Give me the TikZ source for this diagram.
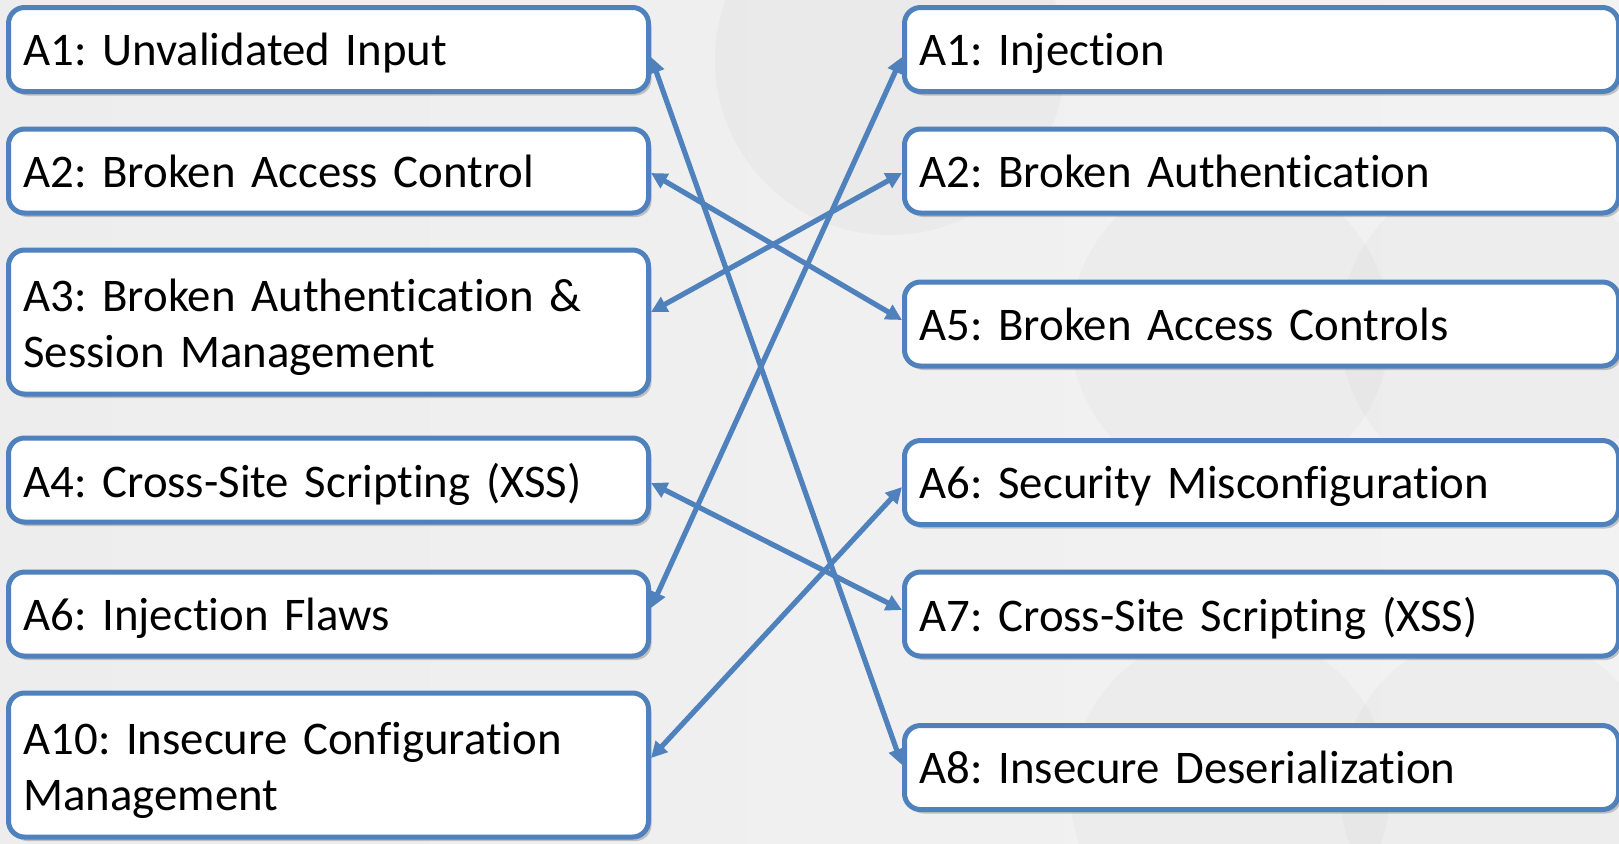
\documentclass[tikz,border=0pt]{standalone}
\usepackage{fontspec}
\setmainfont[Ligatures={NoCommon}]{Carlito}
\usetikzlibrary{arrows.meta,shadows,calc}
\definecolor{itemblue}{HTML}{4F81BD}
\begin{document}
\frenchspacing
\begin{tikzpicture}[x=0.5pt,y=-0.5pt,
  item/.style={draw=itemblue, line width=2.5pt, rounded corners=8pt, fill=white,
    inner xsep=7.5pt, inner ysep=0pt, anchor=west,
    execute at begin node={\raggedright},
    font=\fontsize{23.4}{28}\selectfont,
    drop shadow={shadow xshift=1.5pt, shadow yshift=-2pt, fill=black, opacity=0.2}},
  leftitem/.style={item, text width=305pt, minimum width=320pt},
  rightitem/.style={item, text width=342pt, minimum width=357pt},
  one/.style={minimum height=42pt, text depth=-2pt},
  two/.style={minimum height=72pt, text depth=27pt},
  link/.style={draw=itemblue, line width=2.6pt,
    {Triangle[length=8pt,width=8pt]}-{Triangle[length=8pt,width=8pt]}}
]
% backdrop
\useasboundingbox (0,0) rectangle (1619,843);
\shade[left color=gray!14, middle color=gray!4, right color=gray!10] (0,0) rectangle (1619,843);
\begin{scope}
  \clip (0,0) rectangle (1619,843);
  \fill[gray, opacity=0.05] (890,60) circle (175);
  \fill[gray, opacity=0.04] (1230,330) circle (160);
  \fill[gray, opacity=0.04] (1500,330) circle (160);
  \fill[gray, opacity=0.04] (1230,790) circle (160);
  \fill[gray, opacity=0.04] (1500,790) circle (160);
\end{scope}

% 2004 list
\node[leftitem, one] (L1) at (6,49.5)  {A1: Unvalidated Input};
\node[leftitem, one] (L2) at (6,171)   {A2: Broken Access Control};
\node[leftitem, two] (L3) at (6,322)   {A3: Broken Authentication \&\\Session Management};
\node[leftitem, one] (L4) at (6,480)   {A4: Cross-Site Scripting (XSS)};
\node[leftitem, one] (L5) at (6,614)   {A6: Injection Flaws};
\node[leftitem, two] (L6) at (6,765)   {A10: Insecure Configuration\\Management};

% 2017 list
\node[rightitem, one] (R1) at (902,49.5)  {A1: Injection};
\node[rightitem, one] (R2) at (902,171)   {A2: Broken Authentication};
\node[rightitem, one] (R3) at (902,324)   {A5: Broken Access Controls};
\node[rightitem, one] (R4) at (902,482.5) {A6: Security Misconfiguration};
\node[rightitem, one] (R5) at (902,614)   {A7: Cross-Site Scripting (XSS)};
\node[rightitem, one] (R6) at (902,767.5) {A8: Insecure Deserialization};

% correspondences
\draw[link] ($(L1.east)+(0,7.5)$) -- ($(R6.west)+(0,-2.5)$);
\draw[link] ($(L2.east)+(0,2)$)   -- ($(R3.west)+(0,-4)$);
\draw[link] ($(L3.east)+(0,-10)$) -- ($(R2.west)+(0,2)$);
\draw[link] ($(L4.east)+(0,3)$)   -- ($(R5.west)+(0,-4)$);
\draw[link] ($(L5.east)+(0,-6)$)  -- ($(R1.west)+(0,7.5)$);
\draw[link] ($(L6.east)+(0,-7)$)  -- ($(R4.west)+(0,4.5)$);
\end{tikzpicture}
\end{document}
